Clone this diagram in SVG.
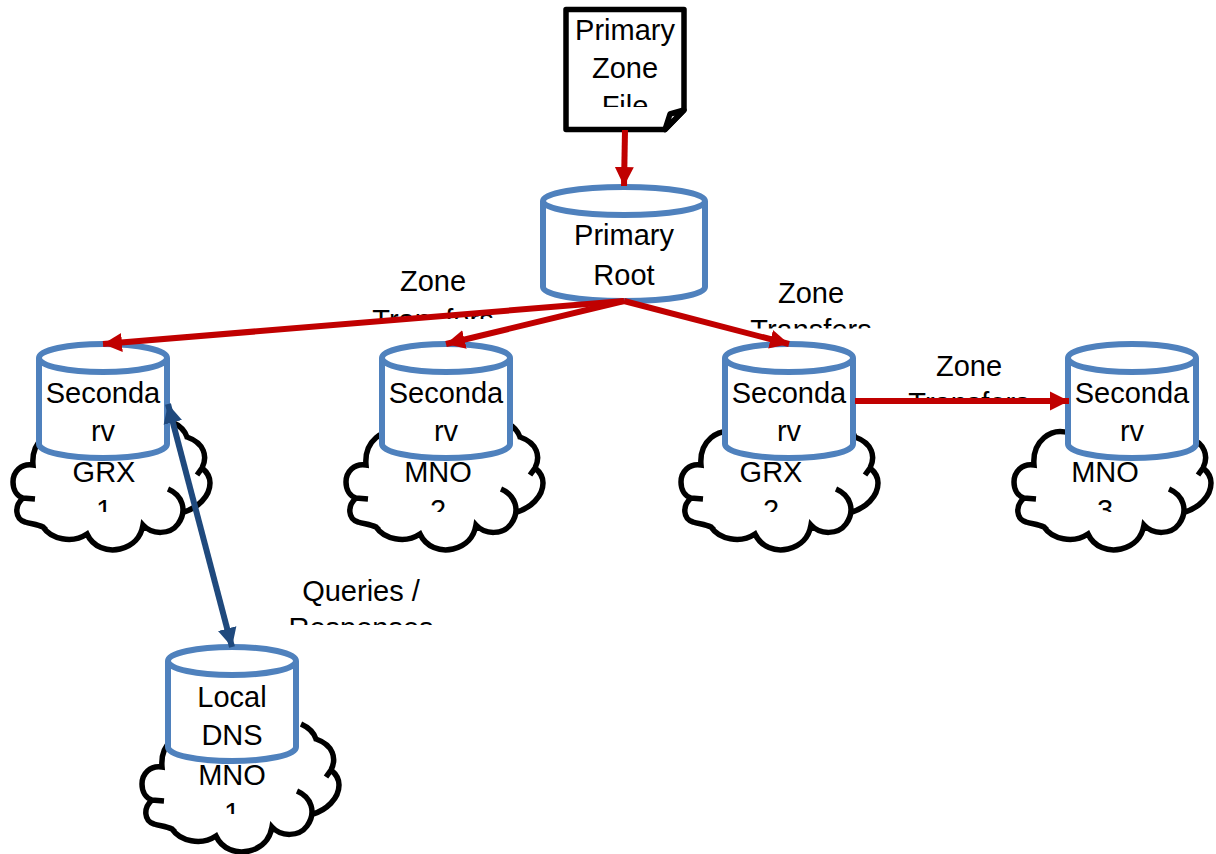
<svg xmlns="http://www.w3.org/2000/svg" width="1216" height="854" viewBox="0 0 1216 854">
<style>
text{font-family:"Liberation Sans",Arial,sans-serif;font-size:29px;fill:#000;text-anchor:middle}
.cloud{fill:#fff;stroke:none}
.cl{fill:none;stroke:#000;stroke-width:5.5}
.cyl{fill:#fff;stroke:#4f81bd;stroke-width:6}
.red{stroke:#c00000;stroke-width:6;fill:none}
.blue{stroke:#1f497d;stroke-width:6;fill:none}
</style>
<defs>
<marker id="ar" markerUnits="userSpaceOnUse" markerWidth="20" markerHeight="20" refX="19" refY="10" orient="auto"><path d="M0,0.5L19,10L0,19.5Z" fill="#c00000"/></marker>
<marker id="ab" markerUnits="userSpaceOnUse" markerWidth="20" markerHeight="20" refX="19" refY="10" orient="auto-start-reverse"><path d="M0,0.5L19,10L0,19.5Z" fill="#1f497d"/></marker>
<clipPath id="c0"><rect x="560" y="0" width="130" height="107"/></clipPath>
<clipPath id="c1"><rect x="360" y="260" width="150" height="59"/></clipPath>
<clipPath id="c2"><rect x="740" y="270" width="150" height="58.5"/></clipPath>
<clipPath id="c3"><rect x="895" y="345" width="150" height="57"/></clipPath>
<clipPath id="c4"><rect x="280" y="570" width="170" height="55"/></clipPath>
<clipPath id="c5"><rect x="0" y="450" width="1216" height="62"/></clipPath>
<clipPath id="c6"><rect x="150" y="750" width="170" height="64"/></clipPath>
<g id="cloudShape">
<path class="cloud" d="M68,433C50,427 31,441 33,465C21,463 13,472 13,482C13,490 17,496 23,498C14,506 15,519 25,522C31,524 37,524 43,527C51,539 72,544 87,534C93,547 107,552 120,549C133,546 141,537 143,525C152,535 170,535 178,524C180,521 183,516 184,512C197,508 210,497 210,483C210,477 207,472 202,468C208,456 204,443 187,437C185,431 181,426 172,422Z"/>
<path class="cl" d="M68,433C50,427 31,441 33,465C21,463 13,472 13,482C13,490 17,496 23,498L35,499M23,498C14,506 15,519 25,522C31,524 37,524 43,527C51,539 72,544 87,534C93,547 107,552 120,549C133,546 141,537 143,525C152,535 170,535 178,524C188,510 182,495 168,489M184,512C197,508 210,497 210,483C210,477 207,472 202,468M197,475L202,468C208,456 204,443 187,437C185,431 181,426 172,422M43,527L46,530"/>
</g>
</defs>

<g id="cloud-grx1"><use href="#cloudShape"/></g>
<g id="cloud-mno2"><use href="#cloudShape" x="333"/></g>
<g id="cloud-grx2"><use href="#cloudShape" x="668"/></g>
<g id="cloud-mno3"><use href="#cloudShape" x="1001"/></g>
<g id="cloud-mno1"><use href="#cloudShape" x="129" y="302"/></g>

<g id="cloud-labels">
<text x="104" y="482">GRX</text><g clip-path="url(#c5)"><text x="104" y="520">1</text></g>
<text x="438" y="482">MNO</text><g clip-path="url(#c5)"><text x="438" y="520">2</text></g>
<text x="771" y="482">GRX</text><g clip-path="url(#c5)"><text x="771" y="520">2</text></g>
<text x="1105" y="482">MNO</text><g clip-path="url(#c5)"><text x="1105" y="520">3</text></g>
<text x="232" y="785">MNO</text><g clip-path="url(#c6)"><text x="232" y="823">1</text></g>
</g>

<g id="zone-file">
<path d="M566,9.5H684V110L665,129.5H566Z" fill="#fff" stroke="#000" stroke-width="5.5" stroke-linejoin="round"/>
<path d="M665,129.5L670,114L684,110Z" fill="#fff" stroke="#000" stroke-width="5.5" stroke-linejoin="round"/>
<text x="625" y="40">Primary</text><text x="625" y="78">Zone</text>
<g clip-path="url(#c0)"><text x="625" y="116">File</text></g>
</g>

<g id="primary-root">
<path class="cyl" d="M543,201V287C543,295 579,301 624,301C669,301 705,295 705,287V201C705,193 669,187 624,187C579,187 543,193 543,201C543,209 579,215 624,215C669,215 705,209 705,201"/>
<text x="624" y="245">Primary</text><text x="624" y="285">Root</text>
</g>

<g id="secondary-grx1">
<path id="cy" class="cyl" d="M39,358V444C39,452 68,458 103,458C138,458 167,452 167,444V358C167,350 138,344 103,344C68,344 39,350 39,358C39,366 68,372 103,372C138,372 167,366 167,358"/>
<text x="103" y="403">Seconda</text><text x="103" y="441">rv</text>
</g>
<g id="secondary-mno2">
<use href="#cy" x="343"/>
<text x="446" y="403">Seconda</text><text x="446" y="441">rv</text>
</g>
<g id="secondary-grx2">
<use href="#cy" x="686"/>
<text x="789" y="403">Seconda</text><text x="789" y="441">rv</text>
</g>
<g id="secondary-mno3">
<use href="#cy" x="1029"/>
<text x="1132" y="403">Seconda</text><text x="1132" y="441">rv</text>
</g>
<g id="local-dns">
<use href="#cy" x="129" y="303"/>
<text x="232" y="707">Local</text><text x="232" y="745">DNS</text>
</g>

<g id="edge-labels">
<text x="433" y="291">Zone</text><g clip-path="url(#c1)"><text x="433" y="330">Transfers</text></g>
<text x="811" y="303">Zone</text><g clip-path="url(#c2)"><text x="811" y="340">Transfers</text></g>
<text x="969" y="376">Zone</text><g clip-path="url(#c3)"><text x="969" y="412.5">Transfers</text></g>
<text x="361" y="601">Queries /</text><g clip-path="url(#c4)"><text x="361" y="638">Responses</text></g>
</g>

<g id="connectors">
<line class="red" x1="625" y1="130" x2="624" y2="186" marker-end="url(#ar)"/>
<line class="red" x1="624" y1="301" x2="103" y2="344" marker-end="url(#ar)"/>
<line class="red" x1="624" y1="301" x2="446" y2="344" marker-end="url(#ar)"/>
<line class="red" x1="624" y1="301" x2="789" y2="344" marker-end="url(#ar)"/>
<line class="red" x1="855" y1="401" x2="1069" y2="401" marker-end="url(#ar)"/>
<line class="blue" x1="168" y1="404" x2="232" y2="647" marker-start="url(#ab)" marker-end="url(#ab)"/>
</g>
</svg>
